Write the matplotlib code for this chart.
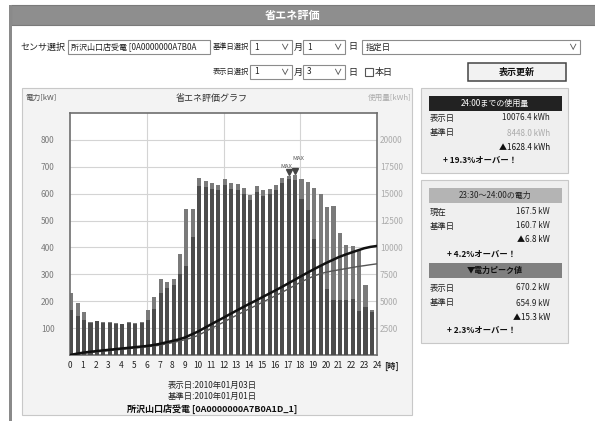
import numpy as np
import matplotlib
matplotlib.use('Agg')
import matplotlib.pyplot as plt
from matplotlib.patches import Rectangle

plt.rcParams['font.family'] = ['Noto Sans CJK JP', 'DejaVu Sans']

# half-hour slots 0:00 .. 23:30
slot_hours = np.arange(48) * 0.5

# 表示日 (2010/01/03) power [kW]
display_kw = [232, 193, 160, 123, 128, 122, 122, 118, 116, 123, 118, 124,
              168, 215, 281, 270, 281, 377, 543, 543, 657, 647, 641, 632,
              655, 641, 636, 620, 595, 629, 614, 616, 633, 660, 665, 670.2,
              655, 642, 620, 600, 550, 555, 455, 408, 404, 390, 262, 167.5]

# 基準日 (2010/01/01) power [kW]
base_kw = [168, 145, 130, 120, 125, 120, 120, 116, 115, 120, 116, 120,
           130, 170, 230, 250, 260, 300, 330, 440, 628, 623, 618, 613,
           633, 618, 613, 598, 578, 608, 593, 598, 613, 638, 654.9, 650,
           580, 540, 430, 330, 245, 205, 205, 205, 210, 162, 180, 160.7]

left_ticks = [100, 200, 300, 400, 500, 600, 700, 800]
right_ticks = [2500, 5000, 7500, 10000, 12500, 15000, 17500, 20000]
hour_labels = [str(h) for h in range(25)]

W, H = 595, 421
fig = plt.figure(figsize=(W / 100, H / 100), dpi=100)
fig.patch.set_facecolor('white')

# page furniture drawn in pixel coordinates
bg = fig.add_axes([0, 0, 1, 1])
bg.set_xlim(0, W)
bg.set_ylim(H, 0)
bg.axis('off')


def box(x, y, w, h, fc='white', ec='#999999', lw=0.8):
    bg.add_patch(Rectangle((x, y), w, h, facecolor=fc, edgecolor=ec, lw=lw))


def txt(x, y, s, size=6.5, color='#222222', ha='left', weight='normal'):
    bg.text(x, y, s, fontsize=size, color=color, ha=ha, va='center',
            fontweight=weight)


def select(x, y, w, label):
    box(x, y, w, 14, ec='#8c8c8c')
    txt(x + 4, y + 7, label, 6)
    txt(x + w - 8, y + 7, '∨', 6, '#555555', ha='center', weight='bold')


# header + frame
box(11, 5, 590, 20, fc='#8e8e8e', ec='#7a7a7a')
txt(293, 15, '省エネ評価', 8, 'white', 'center', 'bold')
bg.add_patch(Rectangle((9, 5), 3, 416, facecolor='#8a8a8a', edgecolor='none'))

# form row 1
txt(20, 47, 'センサ選択', 6.5)
box(68, 40, 142, 14, ec='#8c8c8c')
txt(71, 47, '所沢山口店受電 [0A0000000A7B0A', 5.8)
txt(213, 47, '基準日選択', 5.2)
select(250, 40, 42, '1')
txt(294, 47, '月', 6.5)
select(303, 40, 42, '1')
txt(348, 47, '日', 6.5)
select(362, 40, 218, '指定日')

# form row 2
txt(213, 72, '表示日選択', 5.2)
select(250, 65, 42, '1')
txt(294, 72, '月', 6.5)
select(303, 65, 42, '3')
txt(348, 72, '日', 6.5)
box(365, 68, 8, 8, ec='#555555')
txt(375, 72, '本日', 6.5)
box(468, 63, 98, 18, fc='#f2f2f2', ec='#444444', lw=1.1)
txt(517, 72, '表示更新', 6.5, '#111111', 'center', 'bold')

# chart panel
box(22, 88, 390, 327, fc='#f3f3f3', ec='#c8c8c8')
txt(25, 98, '電力[kW]', 5.5, '#555555')
txt(212, 98, '省エネ評価グラフ', 6.5, '#333333', 'center')
txt(411, 98, '使用量[kWh]', 5.5, '#aaaaaa', 'right')
txt(384, 366, '[時]', 6, '#222222', weight='bold')
txt(212, 385, '表示日:2010年01月03日', 6, '#222222', 'center')
txt(212, 396, '基準日:2010年01月01日', 6, '#222222', 'center')
txt(212, 409, '所沢山口店受電 [0A0000000A7B0A1D_1]', 6.5, '#111111', 'center', 'bold')

# right info panels
box(421, 88, 147, 85, fc='#efefef', ec='#c8c8c8')
box(429, 96, 133, 15, fc='#222222', ec='none')
txt(495, 103.5, '24:00までの使用量', 5.8, 'white', 'center')
txt(430, 118, '表示日', 6)
txt(550, 118, '10076.4 kWh', 5.8, '#222222', 'right')
txt(430, 133, '基準日', 6)
txt(550, 133, '8448.0 kWh', 5.8, '#aaaaaa', 'right')
txt(550, 147, '▲1628.4 kWh', 5.8, '#111111', 'right')
txt(480, 160, '+ 19.3%オーバー！', 6, '#111111', 'center', 'bold')

box(421, 180, 147, 163, fc='#efefef', ec='#c8c8c8')
box(429, 188, 133, 15, fc='#b4b4b4', ec='none')
txt(495, 195.5, '23:30～24:00の電力', 5.8, '#222222', 'center')
txt(430, 212, '現在', 6)
txt(550, 212, '167.5 kW', 5.8, '#222222', 'right')
txt(430, 226, '基準日', 6)
txt(550, 226, '160.7 kW', 5.8, '#222222', 'right')
txt(550, 240, '▲6.8 kW', 5.8, '#111111', 'right')
txt(482, 254, '+ 4.2%オーバー！', 6, '#111111', 'center', 'bold')
box(429, 263, 133, 15, fc='#808080', ec='none')
txt(495, 270.5, '▼電力ピーク値', 5.8, '#111111', 'center', 'bold')
txt(430, 288, '表示日', 6)
txt(550, 288, '670.2 kW', 5.8, '#222222', 'right')
txt(430, 303, '基準日', 6)
txt(550, 303, '654.9 kW', 5.8, '#222222', 'right')
txt(550, 317, '▲15.3 kW', 5.8, '#111111', 'right')
txt(482, 330, '+ 2.3%オーバー！', 6, '#111111', 'center', 'bold')

# the chart
ax = fig.add_axes([70 / W, 1 - 355 / H, 307 / W, 242 / H])
ax.set_facecolor('white')
ax.set_xlim(0, 24)
ax.set_ylim(0, 900)
ax.bar(slot_hours + 0.1, display_kw, width=0.32, color='#7a7a7a', zorder=2)
ax.bar(slot_hours + 0.1, base_kw, width=0.32, color='#4c4c4c', zorder=3)
ax.set_yticks(left_ticks)
ax.set_yticklabels([str(v) for v in left_ticks])
ax.grid(axis='y', color='#d4d4d4', lw=0.8, zorder=0)
for h in [6, 12, 18]:
    ax.axvline(h, color='#d4d4d4', lw=0.8, zorder=0)
ax.set_xticks(range(25))
ax.set_xticklabels(hour_labels)
ax.tick_params(axis='x', length=0, pad=4, labelsize=6, labelcolor='#222222')
ax.tick_params(axis='y', length=0, pad=11, labelsize=6, labelcolor='#7a7a7a')
for s in ax.spines.values():
    s.set_color('#6e6e6e')
    s.set_linewidth(1.2)

# peak markers (labels stacked so they stay readable)
i_disp = int(np.argmax(display_kw))
i_base = int(np.argmax(base_kw))
for i, dx, dy in [(i_base, -0.2, 26), (i_disp, 0.25, 50)]:
    top = max(display_kw[i], base_kw[i])
    ax.plot(slot_hours[i] + 0.1, top + 14, marker='v', ms=4.5, color='#444444', zorder=5)
    ax.text(slot_hours[i] + 0.1 + dx, top + dy, 'MAX', fontsize=4.3,
            color='#555555', ha='center', va='bottom', zorder=5)

# cumulative usage [kWh]
edges = np.arange(49) * 0.5
cum_disp = np.concatenate([[0], np.cumsum(display_kw) * 0.5])
cum_base = np.concatenate([[0], np.cumsum(base_kw) * 0.5])

ax2 = ax.twinx()
ax2.set_ylim(0, 22500)
ax2.plot(edges, cum_base, color='#555555', lw=1.0)
ax2.plot(edges, cum_disp, color='#111111', lw=1.8)
ax2.set_yticks(right_ticks)
ax2.set_yticklabels([str(v) for v in right_ticks])
ax2.tick_params(axis='y', length=0, pad=2, labelsize=6, labelcolor='#ababab')
for s in ax2.spines.values():
    s.set_visible(False)

fig.savefig('out.png', dpi=100)
